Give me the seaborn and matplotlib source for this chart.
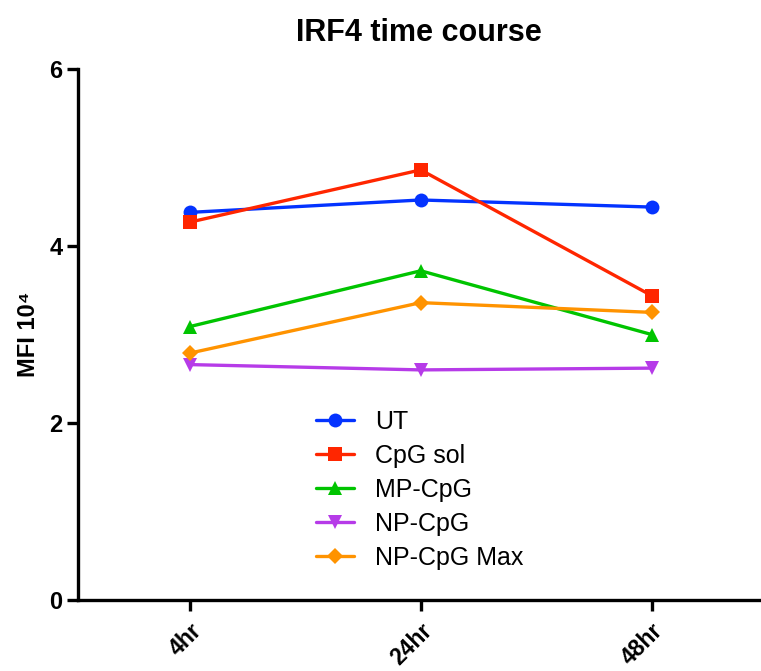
import matplotlib
matplotlib.use("Agg")
import matplotlib.pyplot as plt
import seaborn as sns
import pandas as pd

times = ["4hr", "24hr", "48hr"]
series_names = ["UT", "CpG sol", "MP-CpG", "NP-CpG", "NP-CpG Max"]
ut = [4.38, 4.52, 4.44]
cpg_sol = [4.27, 4.86, 3.44]
mp_cpg = [3.09, 3.72, 3.00]
np_cpg = [2.66, 2.60, 2.62]
np_cpg_max = [2.79, 3.36, 3.25]
values = [ut, cpg_sol, mp_cpg, np_cpg, np_cpg_max]
y_ticks = [0, 2, 4, 6]

colors = ["#0433FF", "#FF2600", "#00C400", "#B63BE8", "#FF9300"]
markers = ["o", "s", "^", "v", "D"]
msizes = [10, 10, 10, 10, 8]

sns.set_theme(style="ticks")
plt.rcParams["font.family"] = ["Liberation Sans", "DejaVu Sans"]
plt.rcParams.update({"text.color": "black", "axes.labelcolor": "black",
                     "xtick.color": "black", "ytick.color": "black",
                     "axes.edgecolor": "black"})

fig = plt.figure(figsize=(7.61, 6.71), dpi=100)
ax = fig.add_axes([78 / 761, 71 / 671, (760 - 78) / 761, (600 - 69) / 671])

for name, vals, c, m, ms in zip(series_names, values, colors, markers, msizes):
    df = pd.DataFrame({"time": times, "MFI": vals})
    sns.lineplot(data=df, x="time", y="MFI", color=c, marker=m, markersize=ms,
                 markeredgewidth=0, linewidth=2.4, label=name, ax=ax, sort=False)

ax.set_xlim(-0.485, 2.47)
ax.set_ylim(0, 6)
ax.set_yticks(y_ticks)
ax.set_yticklabels([str(t) for t in y_ticks], fontsize=17, fontweight="bold")
ax.set_xticks(range(len(times)))
ax.set_xticklabels(times, fontsize=16.5, fontweight="bold", rotation=45,
                   ha="right", rotation_mode="anchor")
ax.set_xlabel("")
ax.set_ylabel("MFI 10⁴", fontsize=17, fontweight="bold")
ax.yaxis.set_label_coords(-0.055, 0.5)
ax.set_title("IRF4 time course", fontsize=22, fontweight="bold", pad=20)

for side in ["top", "right"]:
    ax.spines[side].set_visible(False)
for side in ["left", "bottom"]:
    ax.spines[side].set_linewidth(2.4)
ax.tick_params(axis="both", width=2.4, length=8, color="black")
ax.tick_params(axis="y", pad=3)
ax.tick_params(axis="x", pad=6)

ax.legend(loc="upper left", bbox_to_anchor=(316 / 761, 1 - 410 / 671),
          bbox_transform=fig.transFigure, frameon=False, fontsize=18,
          handlelength=1.5, handletextpad=0.85, labelspacing=0.4,
          borderpad=0, borderaxespad=0)

fig.savefig("out.png", dpi=100)
